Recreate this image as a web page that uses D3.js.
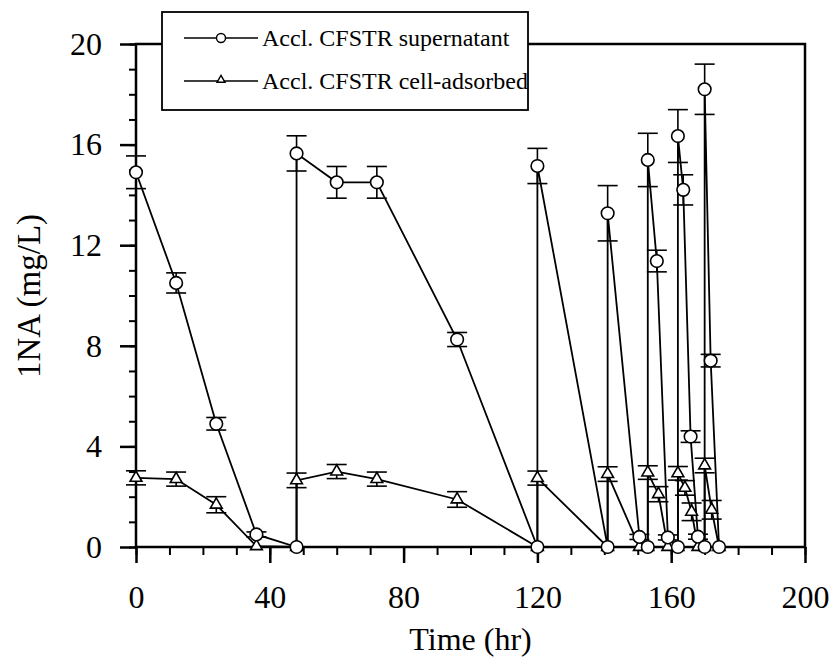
<!DOCTYPE html>
<html>
<head>
<meta charset="utf-8">
<script src="https://cdn.jsdelivr.net/npm/d3@7/dist/d3.min.js"></script>
<style>
  html, body { margin: 0; padding: 0; background: #fff; }
  svg { display: block; }
  text { font-family: "Liberation Serif", "Times New Roman", serif; fill: #000; }
</style>
</head>
<body>
<svg id="chart" width="840" height="669"></svg>
<script>
// ---- data ----
const seriesNames = ["Accl. CFSTR supernatant", "Accl. CFSTR cell-adsorbed"];
const timeSup = [0, 12, 24, 36, 48, 48, 60, 72, 96, 120, 120, 141, 141, 150.5, 153, 153, 155.7, 159, 162, 162, 163.6, 165.8, 168, 170, 170, 171.8, 174.3];
const valSup  = [14.9, 10.5, 4.9, 0.5, 0, 15.65, 14.5, 14.5, 8.25, 0, 15.15, 0, 13.27, 0.4, 0, 15.39, 11.37, 0.38, 0, 16.34, 14.2, 4.39, 0.41, 0, 18.2, 7.41, 0];
const errSup  = [0.65, 0.4, 0.25, 0.1, 0, 0.7, 0.63, 0.63, 0.28, 0, 0.7, 0, 1.1, 0.1, 0, 1.06, 0.43, 0.1, 0, 1.05, 0.6, 0.23, 0.1, 0, 1.0, 0.25, 0];
const timeCell = [0, 12, 24, 36, 48, 48, 60, 72, 96, 120, 120, 141, 141, 150.5, 153, 153, 156.2, 159, 162, 162, 164.1, 166.1, 168, 170, 170, 172.1, 174.3];
const valCell  = [2.75, 2.7, 1.68, 0.03, 0, 2.65, 3.0, 2.7, 1.89, 0, 2.74, 0, 2.9, 0, 0, 2.96, 2.1, 0, 0, 2.93, 2.35, 1.4, 0, 0, 3.24, 1.48, 0];
const errCell  = [0.28, 0.28, 0.32, 0, 0, 0.29, 0.28, 0.28, 0.31, 0, 0.28, 0, 0.29, 0, 0, 0.27, 0.3, 0, 0, 0.27, 0.29, 0.35, 0, 0, 0.29, 0.37, 0];
const xMajorTicks = [0, 40, 80, 120, 160, 200];
const yMajorTicks = [0, 4, 8, 12, 16, 20];
const xTitle = "Time (hr)";
const yTitle = "1NA (mg/L)";

// ---- layout ----
const svg = d3.select("#chart");
const L = 136, R = 805, T = 44, B = 547;
const x = d3.scaleLinear().domain([0, 200]).range([L, R]);
const y = d3.scaleLinear().domain([0, 20]).range([B, T]);

// minor ticks
svg.append("g").attr("transform", `translate(0,${B})`)
  .call(d3.axisBottom(x).tickValues(d3.range(0, 201, 10)).tickSize(8).tickFormat(""))
  .call(g => g.select(".domain").remove())
  .call(g => g.selectAll("line").attr("stroke-width", 2));
svg.append("g").attr("transform", `translate(${L},0)`)
  .call(d3.axisLeft(y).tickValues(d3.range(0, 21, 1)).tickSize(7).tickFormat(""))
  .call(g => g.select(".domain").remove())
  .call(g => g.selectAll("line").attr("stroke-width", 2));

// major ticks with labels
svg.append("g").attr("transform", `translate(0,${B})`)
  .call(d3.axisBottom(x).tickValues(xMajorTicks).tickSize(16).tickPadding(22).tickFormat(d3.format("d")))
  .call(g => g.select(".domain").remove())
  .call(g => g.selectAll("line").attr("stroke-width", 2.5))
  .call(g => g.selectAll("text").attr("font-size", 32).attr("font-family", "Liberation Serif, serif"));
svg.append("g").attr("transform", `translate(${L},0)`)
  .call(d3.axisLeft(y).tickValues(yMajorTicks).tickSize(16).tickPadding(18).tickFormat(d3.format("d")))
  .call(g => g.select(".domain").remove())
  .call(g => g.selectAll("line").attr("stroke-width", 2.5))
  .call(g => g.selectAll("text").attr("font-size", 32).attr("font-family", "Liberation Serif, serif"));

// frame
svg.append("rect").attr("x", L).attr("y", T).attr("width", R - L).attr("height", B - T)
  .attr("fill", "none").attr("stroke", "#000").attr("stroke-width", 2.5);

// titles
svg.append("text").attr("x", (L + R) / 2).attr("y", 650).attr("text-anchor", "middle")
  .attr("font-size", 32).text(xTitle);
svg.append("text").attr("transform", "translate(40,296) rotate(-90)").attr("text-anchor", "middle")
  .attr("font-size", 33).text(yTitle);

const supData = timeSup.map((t, i) => ({ t, v: valSup[i], e: errSup[i] }));
const cellData = timeCell.map((t, i) => ({ t, v: valCell[i], e: errCell[i] }));

function drawErr(data) {
  const g = svg.append("g").attr("stroke", "#000").attr("stroke-width", 1.6);
  data.filter(d => d.e > 0).forEach(d => {
    const y1 = y(d.v + d.e), y2 = y(d.v - d.e), cx = x(d.t);
    g.append("line").attr("x1", cx).attr("x2", cx).attr("y1", y1).attr("y2", y2);
    g.append("line").attr("x1", cx - 10).attr("x2", cx + 10).attr("y1", y1).attr("y2", y1);
    g.append("line").attr("x1", cx - 10).attr("x2", cx + 10).attr("y1", y2).attr("y2", y2);
  });
}
drawErr(supData);
drawErr(cellData);

const line = d3.line().x(d => x(d.t)).y(d => y(d.v));
svg.append("path").datum(supData).attr("d", line).attr("fill", "none").attr("stroke", "#000").attr("stroke-width", 1.8);
svg.append("path").datum(cellData).attr("d", line).attr("fill", "none").attr("stroke", "#000").attr("stroke-width", 1.8);

const tri = d3.symbol().type(d3.symbolTriangle).size(60);
svg.append("g").selectAll("path").data(cellData).join("path")
  .attr("d", tri).attr("transform", d => `translate(${x(d.t)},${y(d.v)})`)
  .attr("fill", "#fff").attr("stroke", "#000").attr("stroke-width", 1.6);
svg.append("g").selectAll("circle").data(supData).join("circle")
  .attr("cx", d => x(d.t)).attr("cy", d => y(d.v)).attr("r", 6.3)
  .attr("fill", "#fff").attr("stroke", "#000").attr("stroke-width", 1.6);

// legend
const lg = svg.append("g");
lg.append("rect").attr("x", 162).attr("y", 12).attr("width", 366).attr("height", 98)
  .attr("fill", "#fff").attr("stroke", "#000").attr("stroke-width", 1.8);
const rows = [38, 81];
rows.forEach((ry, i) => {
  lg.append("line").attr("x1", 184).attr("x2", 258).attr("y1", ry).attr("y2", ry)
    .attr("stroke", "#000").attr("stroke-width", 1.6);
  if (i === 0) {
    lg.append("circle").attr("cx", 221).attr("cy", ry).attr("r", 4.5)
      .attr("fill", "#fff").attr("stroke", "#000").attr("stroke-width", 1.4);
  } else {
    lg.append("path").attr("d", d3.symbol().type(d3.symbolTriangle).size(28)())
      .attr("transform", `translate(221,${ry - 1})`)
      .attr("fill", "#fff").attr("stroke", "#000").attr("stroke-width", 1.4);
  }
  lg.append("text").attr("x", 262).attr("y", ry + 8).attr("font-size", 24).text(seriesNames[i]);
});
</script>
</body>
</html>
